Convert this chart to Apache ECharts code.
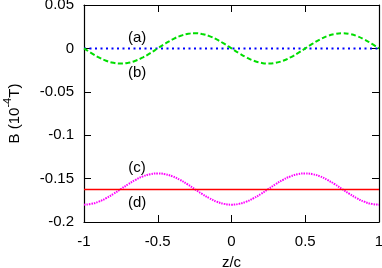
<!DOCTYPE html>
<html><head><meta charset="utf-8">
<script src="https://cdn.jsdelivr.net/npm/echarts@6/dist/echarts.min.js"></script>
<style>html,body{margin:0;padding:0;background:#fff}#c{width:382px;height:268px}</style>
</head><body><div id="c"></div>
<script>
const zValues = [-1,-0.95,-0.9,-0.85,-0.8,-0.75,-0.7,-0.65,-0.6,-0.55,-0.5,-0.45,-0.4,-0.35,-0.3,-0.25,-0.2,-0.15,-0.1,-0.05,0,0.05,0.1,0.15,0.2,0.25,0.3,0.35,0.4,0.45,0.5,0.55,0.6,0.65,0.7,0.75,0.8,0.85,0.9,0.95,1];
const seriesA = [0,0,0,0,0,0,0,0,0,0,0,0,0,0,0,0,0,0,0,0,0,0,0,0,0,0,0,0,0,0,0,0,0,0,0,0,0,0,0,0,0];
const seriesB = [0,-0.0054,-0.0103,-0.0142,-0.0166,-0.0175,-0.0166,-0.0142,-0.0103,-0.0054,0,0.0054,0.0103,0.0142,0.0166,0.0175,0.0166,0.0142,0.0103,0.0054,0,-0.0054,-0.0103,-0.0142,-0.0166,-0.0175,-0.0166,-0.0142,-0.0103,-0.0054,0,0.0054,0.0103,0.0142,0.0166,0.0175,0.0166,0.0142,0.0103,0.0054,0];
const seriesC = [-0.18,-0.1791,-0.1766,-0.1726,-0.1676,-0.162,-0.1564,-0.1514,-0.1474,-0.1449,-0.144,-0.1449,-0.1474,-0.1514,-0.1564,-0.162,-0.1676,-0.1726,-0.1766,-0.1791,-0.18,-0.1791,-0.1766,-0.1726,-0.1676,-0.162,-0.1564,-0.1514,-0.1474,-0.1449,-0.144,-0.1449,-0.1474,-0.1514,-0.1564,-0.162,-0.1676,-0.1726,-0.1766,-0.1791,-0.18];
const seriesD = [-0.1625,-0.1625,-0.1625,-0.1625,-0.1625,-0.1625,-0.1625,-0.1625,-0.1625,-0.1625,-0.1625,-0.1625,-0.1625,-0.1625,-0.1625,-0.1625,-0.1625,-0.1625,-0.1625,-0.1625,-0.1625,-0.1625,-0.1625,-0.1625,-0.1625,-0.1625,-0.1625,-0.1625,-0.1625,-0.1625,-0.1625,-0.1625,-0.1625,-0.1625,-0.1625,-0.1625,-0.1625,-0.1625,-0.1625,-0.1625,-0.1625];
const curveLabels = ['(a)','(b)','(c)','(d)'];
const labelZ = [-0.64,-0.64,-0.64,-0.64];
const labelY = [0.0126,-0.0283,-0.1378,-0.178];
const xTicks = [-1,-0.5,0,0.5,1];
const yTicks = [-0.2,-0.15,-0.1,-0.05,0,0.05];

const pairs = (ys) => zValues.map((z,i)=>[z, ys[i]]);
const font = 'Liberation Sans, Arial, Helvetica, sans-serif';
const fmt = v => String(Math.round(v*100)/100);
const FS = 15;

const axisCommon = {
  axisLine:{show:true,onZero:false,lineStyle:{color:'#000',width:1.2}},
  axisTick:{inside:true,length:7,lineStyle:{color:'#000'}},
  splitLine:{show:false}
};

const chart = echarts.init(document.getElementById('c'), null, {renderer:'canvas'});
chart.setOption({
  animation:false,
  backgroundColor:'#fff',
  grid:{left:84,right:3,top:5,bottom:46,containLabel:false,outerBoundsMode:'none'},
  xAxis:[Object.assign({
    type:'value',min:xTicks[0],max:xTicks[xTicks.length-1],interval:0.5,position:'bottom',
    axisLabel:{color:'#000',fontSize:FS,fontFamily:font,margin:12,formatter:fmt},
    name:'z/c',nameLocation:'middle',nameGap:33,
    nameTextStyle:{color:'#000',fontSize:FS,fontFamily:font}
  },axisCommon),Object.assign({
    type:'value',min:xTicks[0],max:xTicks[xTicks.length-1],interval:0.5,position:'top',
    axisLabel:{show:false}
  },axisCommon)],
  yAxis:[Object.assign({
    type:'value',min:yTicks[0],max:yTicks[yTicks.length-1],interval:0.05,position:'left',
    axisLabel:{color:'#000',fontSize:FS,fontFamily:font,margin:10,formatter:fmt},
    name:'{n|B (10}{s|-4}{n|T)}',nameLocation:'middle',nameGap:62,nameRotate:90,
    nameTextStyle:{color:'#000',fontSize:FS,fontFamily:font,
      rich:{n:{fontSize:FS,fontFamily:font,color:'#000',lineHeight:20,verticalAlign:'bottom'},
            s:{fontSize:11,fontFamily:font,color:'#000',lineHeight:20,verticalAlign:'top'}}}
  },axisCommon),Object.assign({
    type:'value',min:yTicks[0],max:yTicks[yTicks.length-1],interval:0.05,position:'right',
    axisLabel:{show:false}
  },axisCommon)],
  series:[
    {name:'(a)',type:'line',data:pairs(seriesA),showSymbol:false,
     lineStyle:{color:'#0000ff',width:2,type:[2,3.5]}},
    {name:'(b)',type:'line',data:pairs(seriesB),showSymbol:false,smooth:true,
     lineStyle:{color:'#00dd00',width:2,type:[5,2.5]}},
    {name:'(c)',type:'line',data:pairs(seriesC),showSymbol:false,smooth:true,
     lineStyle:{color:'#ff00ff',width:2,type:[1.5,1]}},
    {name:'(d)',type:'line',data:pairs(seriesD),showSymbol:false,
     lineStyle:{color:'#ff0000',width:1.5}},
    {type:'scatter',symbolSize:1,silent:true,itemStyle:{opacity:1,color:'rgba(0,0,0,0)'},
     data:curveLabels.map((t,i)=>({value:[labelZ[i],labelY[i]],name:t})),
     label:{show:true,position:'inside',formatter:p=>p.name,color:'#000',fontSize:FS,fontFamily:font}}
  ]
});
</script></body></html>
